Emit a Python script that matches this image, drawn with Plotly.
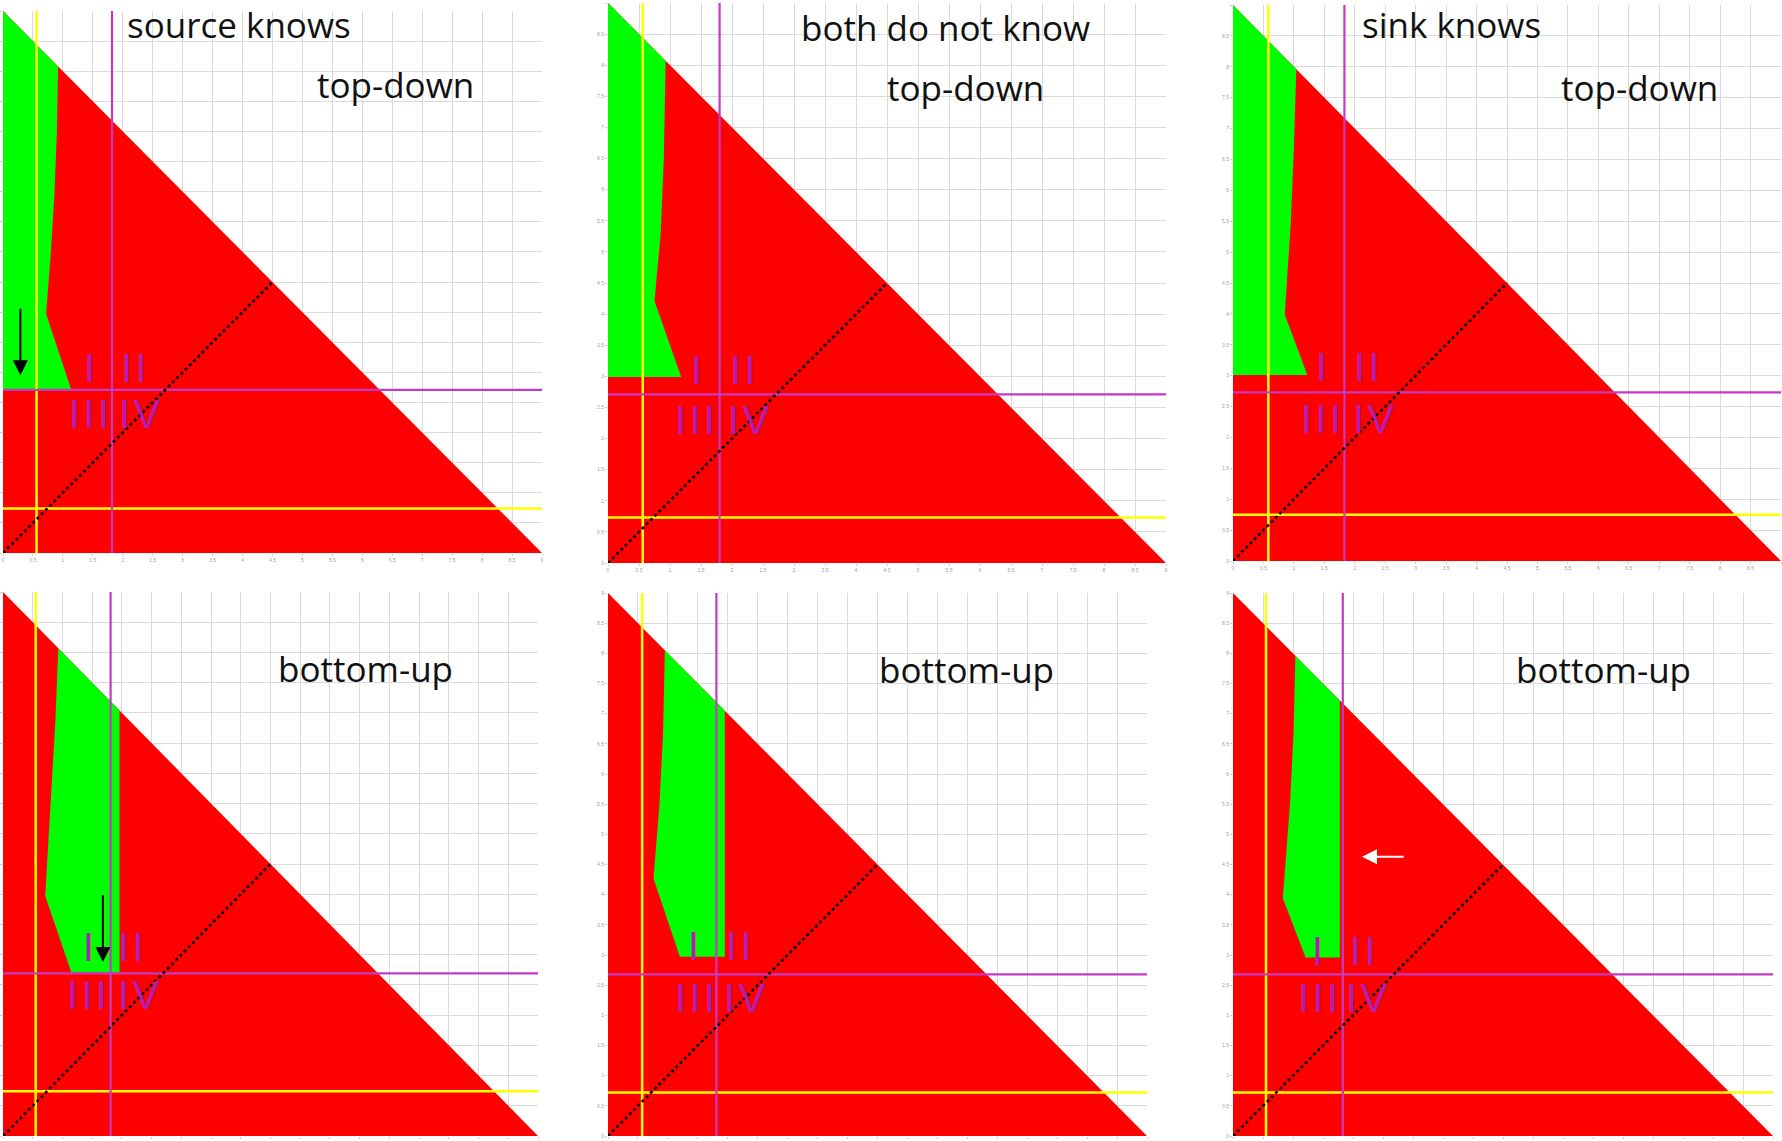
import plotly.graph_objects as go

# ---------------------------------------------------------------------------
# Data (axis units 0..9 on both axes)
# ---------------------------------------------------------------------------
PANEL_TITLES = ["source knows", "both do not know", "sink knows", "", "", ""]
MODE_LABELS = ["top-down", "top-down", "top-down", "bottom-up", "bottom-up", "bottom-up"]

TICK_VALUES = [0, 0.5, 1, 1.5, 2, 2.5, 3, 3.5, 4, 4.5, 5, 5.5, 6, 6.5, 7, 7.5, 8, 8.5, 9]
TICK_TEXT = ["0", "0.5", "1", "1.5", "2", "2.5", "3", "3.5", "4", "4.5", "5",
             "5.5", "6", "6.5", "7", "7.5", "8", "8.5", "9"]

# feasible region: right triangle x + y <= 9
TRIANGLE_X = [0, 9, 0]
TRIANGLE_Y = [0, 0, 9]

# equal-share diagonal up to the hypotenuse
DIAGONAL_X = [0, 4.5]
DIAGONAL_Y = [0, 4.5]

# threshold lines per panel
YELLOW_X = [0.56, 0.56, 0.58, 0.55, 0.57, 0.55]
YELLOW_Y = [0.74, 0.73, 0.75, 0.74, 0.72, 0.72]
MAGENTA_X = [1.82, 1.80, 1.83, 1.81, 1.81, 1.83]
MAGENTA_Y = [2.71, 2.71, 2.73, 2.69, 2.68, 2.68]

# green (successful) regions per panel
GREEN_X = [
    [0, 0.92, 0.90, 0.86, 0.80, 0.72, 1.14, 0],
    [0, 0.93, 0.90, 0.85, 0.75, 1.18, 0],
    [0, 1.04, 1.00, 0.95, 0.85, 1.22, 0],
    [1.96, 1.96, 1.15, 0.71, 0.81, 0.88, 0.93],
    [1.95, 1.95, 1.20, 0.76, 0.86, 0.92, 0.95],
    [1.78, 1.78, 1.21, 0.83, 0.95, 1.01, 1.04],
]
GREEN_Y = [
    [9, 8.08, 7.0, 6.0, 5.0, 3.97, 2.71, 2.71],
    [9, 8.07, 6.5, 5.3, 4.21, 2.99, 2.99],
    [9, 7.96, 6.7, 5.5, 3.99, 3.01, 3.01],
    [7.04, 2.71, 2.71, 3.97, 5.65, 6.84, 8.07],
    [7.05, 2.97, 2.97, 4.27, 5.5, 6.7, 8.05],
    [7.22, 2.96, 2.96, 3.94, 5.5, 6.7, 7.96],
]

# quadrant numerals per panel
QUADRANTS = ["I", "II", "III", "IV"]
QUAD_X = [
    [1.45, 2.18, 1.43, 2.28],
    [1.43, 2.17, 1.41, 2.26],
    [1.46, 2.20, 1.44, 2.31],
    [1.43, 2.16, 1.41, 2.28],
    [1.42, 2.19, 1.46, 2.28],
    [1.41, 2.16, 1.42, 2.23],
]
QUAD_Y = [
    [3.08, 3.08, 2.31, 2.31],
    [3.10, 3.10, 2.30, 2.30],
    [3.14, 3.14, 2.30, 2.30],
    [3.12, 3.12, 2.34, 2.34],
    [3.15, 3.15, 2.29, 2.29],
    [3.06, 3.06, 2.28, 2.28],
]

# arrows: panel index, start, end, colour
ARROW_PANEL = [0, 3, 5]
ARROW_X0 = [0.29, 1.68, 2.87]
ARROW_Y0 = [4.08, 4.01, 4.63]
ARROW_X1 = [0.29, 1.68, 2.15]
ARROW_Y1 = [2.95, 2.88, 4.63]
ARROW_COLOR = ["black", "black", "white"]

# ---------------------------------------------------------------------------
# Layout
# ---------------------------------------------------------------------------
W, H = 1782, 1141
# plot frames in pixels: left, right, top, bottom
FRAMES = [
    (3, 542, 11, 553),
    (608, 1166, 3, 563),
    (1233, 1781, 5, 561),
    (3, 538, 592, 1136),
    (608, 1147, 593, 1136),
    (1233, 1773, 593, 1136),
]
SHOW_X_LABELS = [True, True, True, False, False, False]
SHOW_Y_LABELS = [False, True, True, False, True, True]
# outermost labels that would sit on the page edge stay blank
HIDE_LAST_X = [False, False, True, False, False, False]
HIDE_LAST_Y = [False, True, True, False, False, False]
TITLE_POS = [(3.94, 8.78), (5.44, 8.61), (3.59, 8.69), None, None, None]
MODE_POS = [(6.55, 7.78), (5.77, 7.65), (6.68, 7.67), (6.10, 7.73), (5.98, 7.74), (6.18, 7.74)]

RED = "#FF0000"
GREEN = "#00FF00"
YELLOW = "#FFFF00"
MAGENTA = "#C43AC4"
NUMERAL = "#B01EB4"
FONT = "Open Sans"
NUMERAL_FONT = "Liberation Sans"
HAIR = "\u200a"


def tick_text(hide_last):
    return TICK_TEXT[:-1] + [""] if hide_last else TICK_TEXT


def spaced(label):
    # open up the letters of a numeral slightly
    return HAIR.join(label)


fig = go.Figure()
annotations = []

for i in range(6):
    sfx = "" if i == 0 else str(i + 1)
    xa, ya = "x" + sfx, "y" + sfx

    def line(xs, ys, color, width, dash="solid"):
        fig.add_trace(go.Scatter(x=xs, y=ys, mode="lines", xaxis=xa, yaxis=ya,
                                 line=dict(color=color, width=width, dash=dash),
                                 hoverinfo="skip", showlegend=False))

    fig.add_trace(go.Scatter(x=TRIANGLE_X, y=TRIANGLE_Y, fill="toself", fillcolor=RED,
                             mode="lines", line=dict(width=0), xaxis=xa, yaxis=ya,
                             hoverinfo="skip", showlegend=False))
    fig.add_trace(go.Scatter(x=GREEN_X[i], y=GREEN_Y[i], fill="toself", fillcolor=GREEN,
                             mode="lines", line=dict(width=0), xaxis=xa, yaxis=ya,
                             hoverinfo="skip", showlegend=False))

    line([YELLOW_X[i], YELLOW_X[i]], [0, 9], YELLOW, 2.5)
    line([0, 9], [YELLOW_Y[i], YELLOW_Y[i]], YELLOW, 2.5)
    line([MAGENTA_X[i], MAGENTA_X[i]], [0, 9], MAGENTA, 2.2)
    line([0, 9], [MAGENTA_Y[i], MAGENTA_Y[i]], MAGENTA, 2.2)
    line(DIAGONAL_X, DIAGONAL_Y, "black", 2.6, "dot")

    l, r, t, b = FRAMES[i]
    axis_common = dict(range=[0, 9], tickvals=TICK_VALUES, showgrid=True,
                       gridcolor="#DADADA", gridwidth=1, zeroline=False,
                       showline=False, ticks="outside", ticklen=2, tickcolor="#CCCCCC",
                       tickfont=dict(size=5, color="#A0A0A0", family="Arial"),
                       automargin=False, fixedrange=True)
    fig.layout["xaxis" + sfx] = dict(domain=[l / W, r / W], anchor=ya,
                                     ticktext=tick_text(HIDE_LAST_X[i]),
                                     showticklabels=SHOW_X_LABELS[i], **axis_common)
    fig.layout["yaxis" + sfx] = dict(domain=[1 - b / H, 1 - t / H], anchor=xa,
                                     ticktext=tick_text(HIDE_LAST_Y[i]),
                                     showticklabels=SHOW_Y_LABELS[i], **axis_common)

    if PANEL_TITLES[i]:
        tx, ty = TITLE_POS[i]
        annotations.append(dict(x=tx, y=ty, xref=xa, yref=ya, text=PANEL_TITLES[i],
                                showarrow=False, xanchor="center", yanchor="middle",
                                font=dict(family=FONT, size=35, color="#111111")))
    mx, my = MODE_POS[i]
    annotations.append(dict(x=mx, y=my, xref=xa, yref=ya, text=MODE_LABELS[i],
                            showarrow=False, xanchor="center", yanchor="middle",
                            font=dict(family=FONT, size=35, color="#111111")))

    for k, q in enumerate(QUADRANTS):
        annotations.append(dict(x=QUAD_X[i][k], y=QUAD_Y[i][k], xref=xa, yref=ya,
                                text=spaced(q), showarrow=False,
                                xanchor="center", yanchor="middle", borderpad=0,
                                font=dict(family=NUMERAL_FONT, size=40, color=NUMERAL)))

for j, p in enumerate(ARROW_PANEL):
    sfx = "" if p == 0 else str(p + 1)
    xa, ya = "x" + sfx, "y" + sfx
    annotations.append(dict(x=ARROW_X1[j], y=ARROW_Y1[j], ax=ARROW_X0[j], ay=ARROW_Y0[j],
                            xref=xa, yref=ya, axref=xa, ayref=ya, text="",
                            showarrow=True, arrowhead=2, arrowsize=1.5, arrowwidth=2,
                            arrowcolor=ARROW_COLOR[j]))

fig.update_layout(width=W, height=H, margin=dict(l=0, r=0, t=0, b=0),
                  paper_bgcolor="white", plot_bgcolor="white",
                  showlegend=False, annotations=annotations, hovermode=False)

fig.write_html("out.html", config={"displayModeBar": False})
